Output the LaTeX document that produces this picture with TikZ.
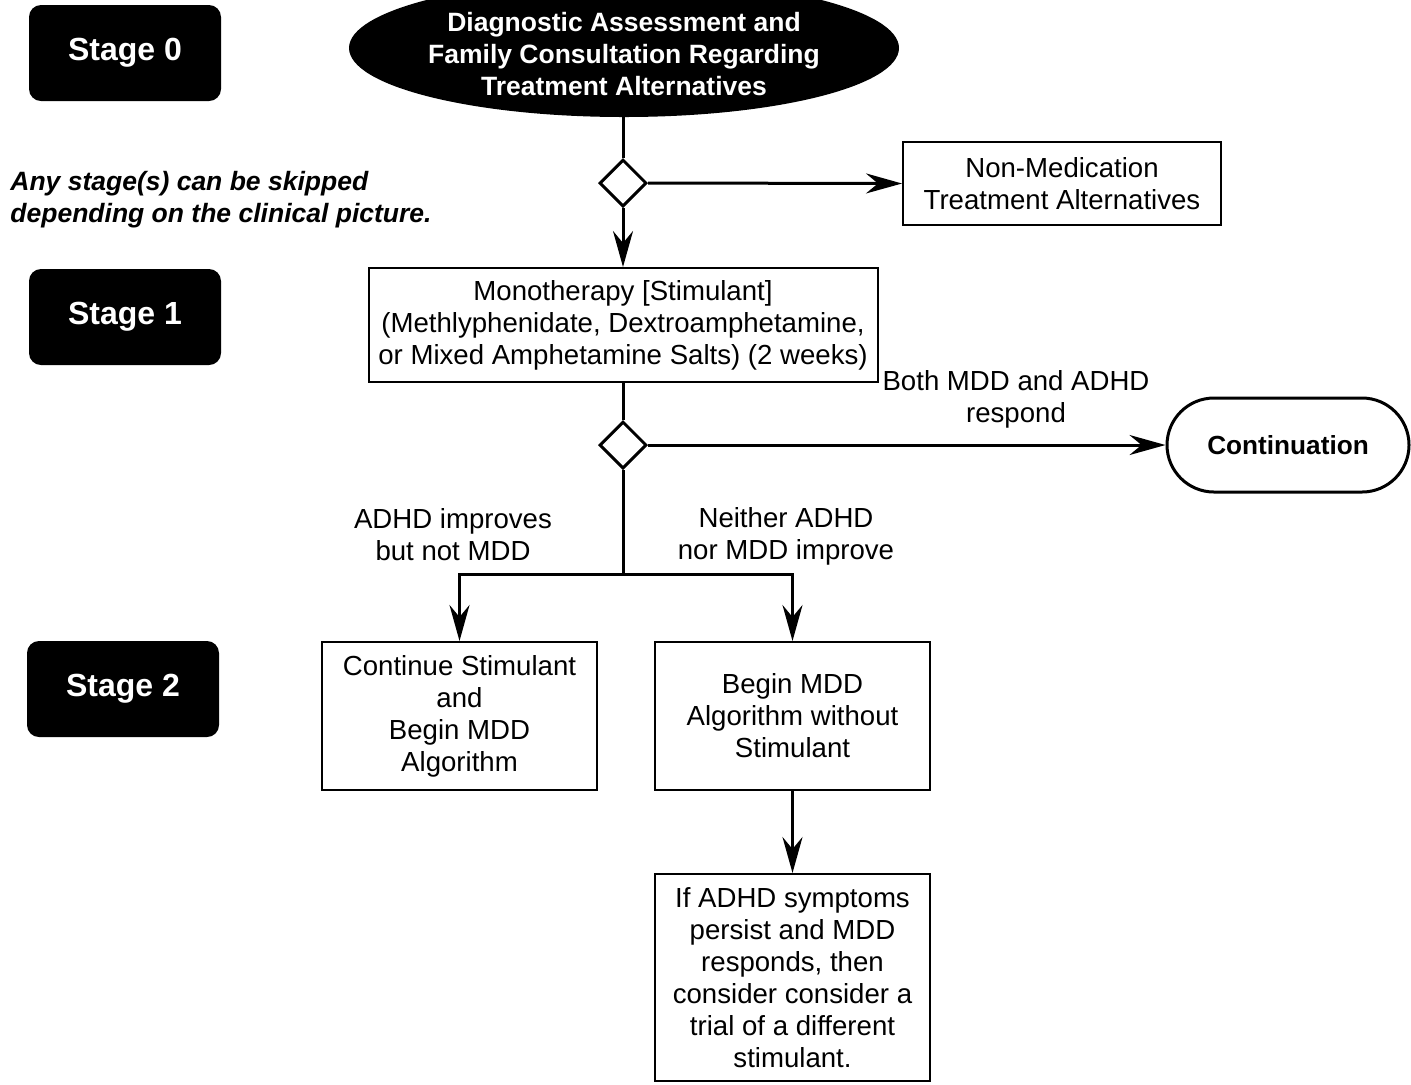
\documentclass[tikz,border=0pt]{standalone}
\usepackage{fontspec}
\setmainfont{Liberation Sans}
\usetikzlibrary{shapes.geometric,arrows.meta}
\tikzset{
        every node/.style={font=\fontsize{13.8}{16}\selectfont},
        flow/.style={line width=1.5pt},
        arr/.style={flow, -{Stealth[length=18pt, width=10pt, inset=6pt]}},
        stagebox/.style={rectangle, rounded corners=6pt, fill=black, text=white, minimum width=96pt, minimum height=48pt, font=\fontsize{16}{19}\selectfont\bfseries},
        startnode/.style={ellipse, fill=black, inner sep=0pt, minimum width=275pt, minimum height=69pt},
        starttext/.style={text=white, align=center, inner sep=0pt, yshift=-3pt, font=\fontsize{13.25}{16}\selectfont\bfseries},
        procbox/.style={rectangle, draw=black, line width=1pt, inner sep=0pt, align=center},
        decision/.style={diamond, draw=black, line width=1.5pt, inner sep=0pt, minimum width=23.5pt, minimum height=23.5pt},
        endnode/.style={rectangle, draw=black, line width=1.5pt, rounded corners=23.5pt, minimum width=121pt, minimum height=47pt, font=\fontsize{13.1}{15}\selectfont\bfseries},
        lbl/.style={align=center, inner sep=0pt},
        note/.style={align=left, inner sep=0pt, font=\fontsize{13.25}{16}\selectfont\bfseries\itshape}
          }

\begin{document}
\begin{tikzpicture}[x=0.5pt, y=-0.5pt]
      \useasboundingbox (0,0) rectangle (1411,1084);
      \clip (0,0) rectangle (1411,1084);
      % stage markers
      \node[stagebox] (stage0) at (125,53) {Stage 0};
      \node[stagebox] (stage1) at (125,317) {Stage 1};
      \node[stagebox] (stage2) at (123,689) {Stage 2};
      \node[note, anchor=west] (skip) at (10,200) {Any stage(s) can be skipped\\depending on the clinical picture.};

      % flow
      \node[startnode, label={[starttext]center:{Diagnostic Assessment and\\Family Consultation Regarding\\Treatment Alternatives}}] (assess) at (624,48) {};
      \node[decision] (dec1) at (623,183) {};
      \node[procbox, minimum width=159pt, minimum height=41.5pt] (nonmed) at (1062,183.5) {Non-Medication\\Treatment Alternatives};
      \node[procbox, minimum width=254.5pt, minimum height=57pt] (mono) at (623,325) {Monotherapy [Stimulant]\\(Methlyphenidate, Dextroamphetamine,\\or Mixed Amphetamine Salts) (2 weeks)};
      \node[decision] (dec2) at (623,445) {};
      \node[endnode] (cont) at (1288,445) {Continuation};
      \coordinate (split) at (623,574);
      \node[procbox, minimum width=137.5pt, minimum height=74pt] (contstim) at (459.5,716) {Continue Stimulant\\and\\Begin MDD\\Algorithm};
      \node[procbox, minimum width=137.5pt, minimum height=74pt] (beginmdd) at (792.5,716) {Begin MDD\\Algorithm without\\Stimulant};
      \node[procbox, minimum width=137.5pt, minimum height=103.5pt] (ifadhd) at (792.5,977.5) {If ADHD symptoms\\persist and MDD\\responds, then\\consider consider a\\trial of a different\\stimulant.};

      % edge labels
      \node[lbl] (bothlbl) at (1016,399) {Both MDD and ADHD\\respond};
      \node[lbl] (adhdlbl) at (453,535) {ADHD improves\\but not MDD};
      \node[lbl] (neitherlbl) at (786,536) {Neither ADHD\\nor MDD improve};

      \draw[flow] (assess.south -| dec1.north) -- (dec1.north);
      \draw[arr] (dec1.east) -- (nonmed.west);
      \draw[arr] (dec1.south) -- (mono.north);
      \draw[flow] (mono.south) -- (dec2.north);
      \draw[arr] (dec2.east) -- (cont.west);
      \draw[flow] (dec2.south) -- (split);
      \draw[arr] (split) -| (contstim.north);
      \draw[arr] (split) -| (beginmdd.north);
      \draw[arr] (beginmdd.south) -- (ifadhd.north);
    \end{tikzpicture}
\end{document}
